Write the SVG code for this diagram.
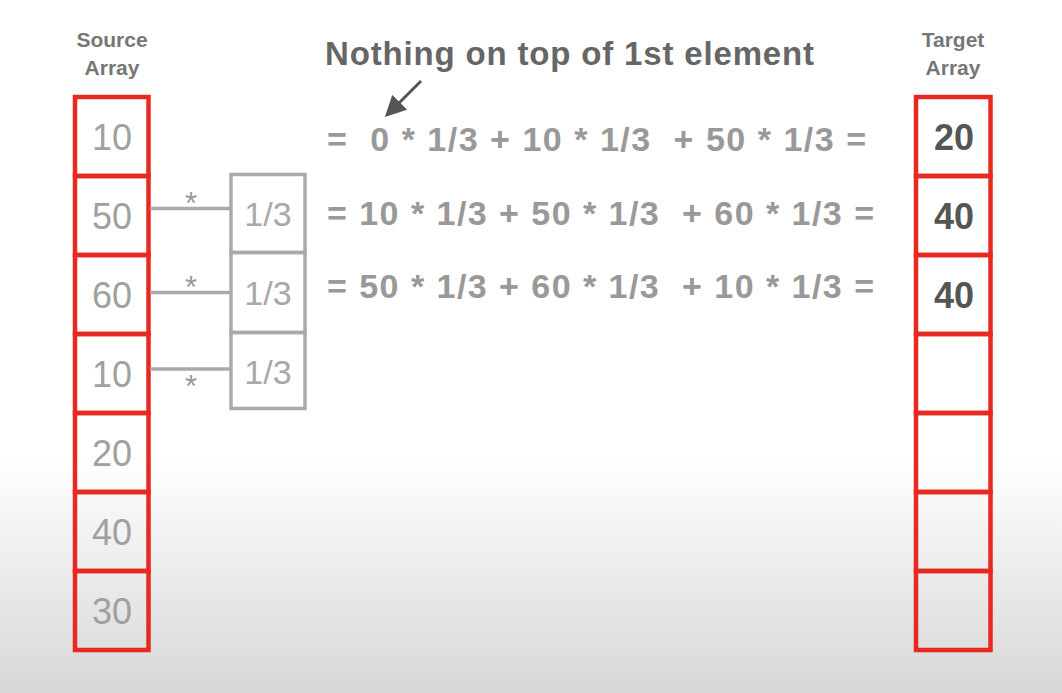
<svg xmlns="http://www.w3.org/2000/svg" width="1062" height="693" viewBox="0 0 1062 693">
<defs>
<linearGradient id="bg" x1="0" y1="0" x2="0" y2="1">
<stop offset="0" stop-color="#ffffff"/>
<stop offset="0.66" stop-color="#ffffff"/>
<stop offset="1" stop-color="#d7d7d7"/>
</linearGradient>
<marker id="ah" markerWidth="7" markerHeight="7" refX="6" refY="3.5" orient="auto" markerUnits="strokeWidth">
<path d="M0,0 L7,3.5 L0,7 Z" fill="#555"/>
</marker>
<style>
.cell{fill:none;stroke:#e8291f;stroke-width:4.5}
.box{fill:none;stroke:#aaaaaa;stroke-width:3.5}
.src{font-family:"Liberation Sans",Arial,sans-serif;font-size:36px;fill:#a0a0a0;text-anchor:middle}
.tgt{font-family:"Liberation Sans",Arial,sans-serif;font-size:36px;font-weight:bold;fill:#555;text-anchor:middle}
.coef{font-family:"Liberation Sans",Arial,sans-serif;font-size:34px;fill:#a8a8a8;text-anchor:middle}
.hdr{font-family:"Liberation Sans",Arial,sans-serif;font-size:21px;font-weight:bold;fill:#777;text-anchor:middle}
.eq{font-family:"Liberation Sans",Arial,sans-serif;font-size:34px;font-weight:bold;fill:#999;white-space:pre}
.title{font-family:"Liberation Sans",Arial,sans-serif;font-size:33px;font-weight:bold;fill:#666}
.ast{font-family:"Liberation Sans",Arial,sans-serif;font-size:31px;fill:#999;text-anchor:middle}
.conn{stroke:#aaaaaa;stroke-width:3.5;fill:none}
</style>
</defs>
<rect x="0" y="0" width="1062" height="693" fill="url(#bg)"/>

<g id="source-header">
<text class="hdr" x="112" y="47">Source</text>
<text class="hdr" x="112" y="75">Array</text>
</g>
<g id="target-header">
<text class="hdr" x="953" y="47">Target</text>
<text class="hdr" x="953" y="75">Array</text>
</g>

<g id="source-array">
<g id="src0"><rect class="cell" x="75" y="97" width="73.5" height="79"/><text class="src" x="112" y="149.5">10</text></g>
<g id="src1"><rect class="cell" x="75" y="176" width="73.5" height="79"/><text class="src" x="112" y="228.5">50</text></g>
<g id="src2"><rect class="cell" x="75" y="255" width="73.5" height="79"/><text class="src" x="112" y="307.5">60</text></g>
<g id="src3"><rect class="cell" x="75" y="334" width="73.5" height="79"/><text class="src" x="112" y="386.5">10</text></g>
<g id="src4"><rect class="cell" x="75" y="413" width="73.5" height="79"/><text class="src" x="112" y="465.5">20</text></g>
<g id="src5"><rect class="cell" x="75" y="492" width="73.5" height="79"/><text class="src" x="112" y="544.5">40</text></g>
<g id="src6"><rect class="cell" x="75" y="571" width="73.5" height="79"/><text class="src" x="112" y="623.5">30</text></g>
</g>

<g id="target-array">
<g id="tgt0"><rect class="cell" x="916" y="97" width="74.5" height="79"/><text class="tgt" x="954" y="149.5">20</text></g>
<g id="tgt1"><rect class="cell" x="916" y="176" width="74.5" height="79"/><text class="tgt" x="954" y="228.5">40</text></g>
<g id="tgt2"><rect class="cell" x="916" y="255" width="74.5" height="79"/><text class="tgt" x="954" y="307.5">40</text></g>
<g id="tgt3"><rect class="cell" x="916" y="334" width="74.5" height="79"/></g>
<g id="tgt4"><rect class="cell" x="916" y="413" width="74.5" height="79"/></g>
<g id="tgt5"><rect class="cell" x="916" y="492" width="74.5" height="79"/></g>
<g id="tgt6"><rect class="cell" x="916" y="571" width="74.5" height="79"/></g>
</g>

<g id="kernel">
<g id="k0"><rect class="box" x="231" y="174.5" width="74" height="78"/><text class="coef" x="268" y="225.5">1/3</text></g>
<g id="k1"><rect class="box" x="231" y="252.5" width="74" height="80"/><text class="coef" x="268" y="305">1/3</text></g>
<g id="k2"><rect class="box" x="231" y="332.5" width="74" height="76"/><text class="coef" x="268" y="383.5">1/3</text></g>
</g>

<g id="connectors">
<line class="conn" x1="150" y1="208.5" x2="231" y2="208.5"/>
<line class="conn" x1="150" y1="292.5" x2="231" y2="292.5"/>
<line class="conn" x1="150" y1="369" x2="231" y2="369"/>
<text class="ast" x="191" y="214">*</text>
<text class="ast" x="191" y="298">*</text>
<text class="ast" x="191" y="397">*</text>
<line x1="421" y1="81" x2="387" y2="115" stroke="#555" stroke-width="3" marker-end="url(#ah)"/>
</g>

<g id="note">
<text class="title" x="325" y="65" textLength="489" lengthAdjust="spacing">Nothing on top of 1st element</text>
</g>

<g id="equations">
<text class="eq" x="327" y="151" textLength="539" lengthAdjust="spacing">=  0 * 1/3 + 10 * 1/3  + 50 * 1/3 =</text>
<text class="eq" x="327" y="225" textLength="547" lengthAdjust="spacing">= 10 * 1/3 + 50 * 1/3  + 60 * 1/3 =</text>
<text class="eq" x="327" y="298" textLength="547" lengthAdjust="spacing">= 50 * 1/3 + 60 * 1/3  + 10 * 1/3 =</text>
</g>
</svg>
